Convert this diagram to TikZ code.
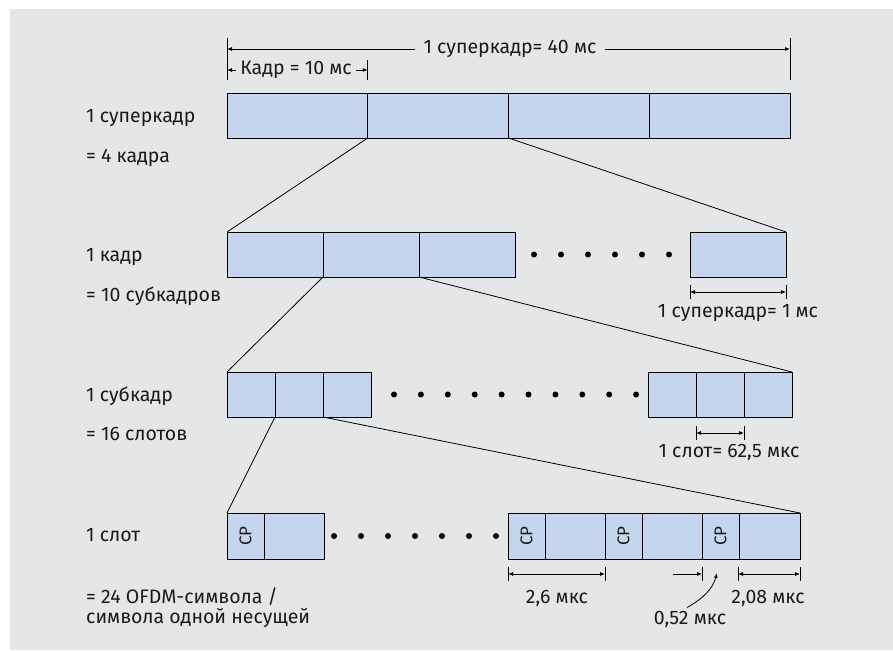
\documentclass[tikz,border=0pt]{standalone}
\usepackage{fontspec}
\setmainfont{Fira Sans}
\usetikzlibrary{arrows.meta}
\definecolor{bggray}{HTML}{E5E6E8}
\definecolor{boxblue}{HTML}{C6D5EE}
\definecolor{txt}{HTML}{1A1A1A}
\begin{document}
\begin{tikzpicture}[x=1pt,y=-1pt,
  bx/.style={draw=black, fill=boxblue, line width=0.9pt, outer sep=0pt, inner sep=0pt, anchor=north west, minimum height=45pt},
  lbl/.style={anchor=west, inner sep=0pt, text=txt, font=\fontsize{19.5}{20}\selectfont},
  dl/.style={inner sep=0pt, text=txt, font=\fontsize{19.5}{20}\selectfont},
  ln/.style={line width=0.8pt},
  tip/.style={line width=0.8pt, {Latex[length=5pt,width=4pt]}-{Latex[length=5pt,width=4pt]}},
  onetip/.style={line width=0.8pt, -{Latex[length=5pt,width=4pt]}},
  dot/.style={circle, fill=black, inner sep=0pt, minimum size=6pt},
  cp/.style={rotate=90, inner sep=0pt, text=txt, font=\fontsize{17}{18}\selectfont}
]
\useasboundingbox (0,0) rectangle (893,650);
\fill[white] (0,0) rectangle (893,650);
\fill[bggray] (10,9) rectangle (893,650);

% ---------- level 1 ----------
\node[bx, minimum width=140.75pt] (s1) at (227,93) {};
\node[bx, minimum width=140.75pt] (s2) at (367.75,93) {};
\node[bx, minimum width=140.75pt] (s3) at (508.5,93) {};
\node[bx, minimum width=140.75pt] (s4) at (649.25,93) {};

\coordinate (ta1) at (227,38); \coordinate (ta2) at (227,80);
\coordinate (tb1) at (790,38); \coordinate (tb2) at (790,80);
\coordinate (tc1) at (367.75,60); \coordinate (tc2) at (367.75,80);
\draw[ln] (ta1) -- (ta2);
\draw[ln] (tb1) -- (tb2);
\draw[ln] (tc1) -- (tc2);
\coordinate (d1a) at (227,49); \coordinate (d1b) at (790,49);
\node[dl, inner xsep=8pt] (d1) at (510,49) {1 суперкадр= 40 мс};
\draw[onetip] (d1) -- (d1a);
\draw[onetip] (d1) -- (d1b);
\coordinate (d2a) at (227,70); \coordinate (d2b) at (367.75,70);
\node[dl, inner xsep=4pt] (d2) at (296,70) {Кадр = 10 мс};
\draw[onetip] (d2) -- (d2a);
\draw[onetip] (d2) -- (d2b);

\node[lbl] (l1a) at (86,118) {1 суперкадр};
\node[lbl] (l1b) at (86,158) {= 4 кадра};

% ---------- level 2 ----------
\node[bx, minimum width=96pt] (f1) at (227,232) {};
\node[bx, minimum width=96pt] (f2) at (323,232) {};
\node[bx, minimum width=96pt] (f3) at (419,232) {};
\node[bx, minimum width=96pt] (fl) at (690,232) {};
\foreach \i in {0,...,5} { \node[dot] (fd\i) at (534+27*\i,254.5) {}; }

\draw[ln] (s2.south west) -- (f1.north west);
\draw[ln] (s3.south west) -- (fl.north east);

\coordinate (e1a) at (690,285); \coordinate (e1b) at (690,299);
\coordinate (e2a) at (786,285); \coordinate (e2b) at (786,299);
\draw[ln] (e1a) -- (e1b);
\draw[ln] (e2a) -- (e2b);
\coordinate (e1) at (690,292); \coordinate (e2) at (786,292);
\draw[tip] (e1) -- (e2);
\node[dl] (m2) at (738,313) {1 суперкадр= 1 мс};

\node[lbl] (l2a) at (86,257) {1 кадр};
\node[lbl] (l2b) at (86,296) {= 10 субкадров};

% ---------- level 3 ----------
\node[bx, minimum width=48pt] (b1) at (227,372) {};
\node[bx, minimum width=48pt] (b2) at (275,372) {};
\node[bx, minimum width=48pt] (b3) at (323,372) {};
\node[bx, minimum width=48pt] (c1) at (648,372) {};
\node[bx, minimum width=48pt] (c2) at (696,372) {};
\node[bx, minimum width=48pt] (c3) at (744,372) {};
\foreach \i in {0,...,9} { \node[dot] (bd\i) at (394+26.9*\i,394.5) {}; }

\draw[ln] (f2.south west) -- (b1.north west);
\draw[ln] (f3.south west) -- (c3.north east);

\coordinate (g1a) at (696,426); \coordinate (g1b) at (696,440);
\coordinate (g2a) at (744,426); \coordinate (g2b) at (744,440);
\draw[ln] (g1a) -- (g1b);
\draw[ln] (g2a) -- (g2b);
\coordinate (g1) at (696,433); \coordinate (g2) at (744,433);
\draw[tip] (g1) -- (g2);
\node[dl] (m3) at (729,452) {1 слот= 62,5 мкс};

\node[lbl] (l3a) at (86,396) {1 субкадр};
\node[lbl] (l3b) at (86,434) {= 16 слотов};

% ---------- level 4 ----------
\node[bx, minimum width=37pt, minimum height=46pt] (p1) at (227,513) {};
\node[bx, minimum width=60pt, minimum height=46pt] (q1) at (264,513) {};
\node[bx, minimum width=37pt, minimum height=46pt] (p2) at (508,513) {};
\node[bx, minimum width=60pt, minimum height=46pt] (q2) at (545,513) {};
\node[bx, minimum width=37pt, minimum height=46pt] (p3) at (605,513) {};
\node[bx, minimum width=60pt, minimum height=46pt] (q3) at (642,513) {};
\node[bx, minimum width=37pt, minimum height=46pt] (p4) at (702,513) {};
\node[bx, minimum width=61pt, minimum height=46pt] (q4) at (739,513) {};
\node[cp] (cp1) at (p1.center) {CP};
\node[cp] (cp2) at (p2.center) {CP};
\node[cp] (cp3) at (p3.center) {CP};
\node[cp] (cp4) at (p4.center) {CP};
\foreach \i in {0,...,6} { \node[dot] (pd\i) at (334+27*\i,536) {}; }

\draw[ln] (b2.south west) -- (p1.north west);
\draw[ln] (b3.south west) -- (q4.north east);

% 2,6
\coordinate (h1a) at (508,567); \coordinate (h1b) at (508,581);
\coordinate (h2a) at (605,567); \coordinate (h2b) at (605,581);
\draw[ln] (h1a) -- (h1b);
\draw[ln] (h2a) -- (h2b);
\coordinate (h1) at (508,574); \coordinate (h2) at (605,574);
\draw[tip] (h1) -- (h2);
\node[dl] (m4a) at (557,598) {2,6 мкс};
% 0,52
\coordinate (k1a) at (702,567); \coordinate (k1b) at (702,581);
\draw[ln] (k1a) -- (k1b);
\coordinate (k0) at (673,574); \coordinate (k1) at (702,574);
\draw[onetip] (k0) -- (k1);
% 2,08
\coordinate (n1a) at (738,567); \coordinate (n1b) at (738,581);
\coordinate (n2a) at (800,567); \coordinate (n2b) at (800,581);
\draw[ln] (n1a) -- (n1b);
\draw[ln] (n2a) -- (n2b);
\coordinate (n1) at (738,574); \coordinate (n2) at (800,574);
\draw[tip] (n1) -- (n2);
\node[dl] (m4c) at (768,598) {2,08 мкс};

\node[dl] (m4b) at (690,619) {0,52 мкс};
\coordinate (arr) at (717,573);
\draw[onetip] (m4b.north) ++(-3,-3) .. controls (704,598) and (713,588) .. (arr);

\node[lbl] (l4a) at (86,535) {1 слот};
\node[lbl, anchor=north west, align=left] (l4b) at (86,588) {= 24 OFDM-символа /\\символа одной несущей};
\end{tikzpicture}
\end{document}
